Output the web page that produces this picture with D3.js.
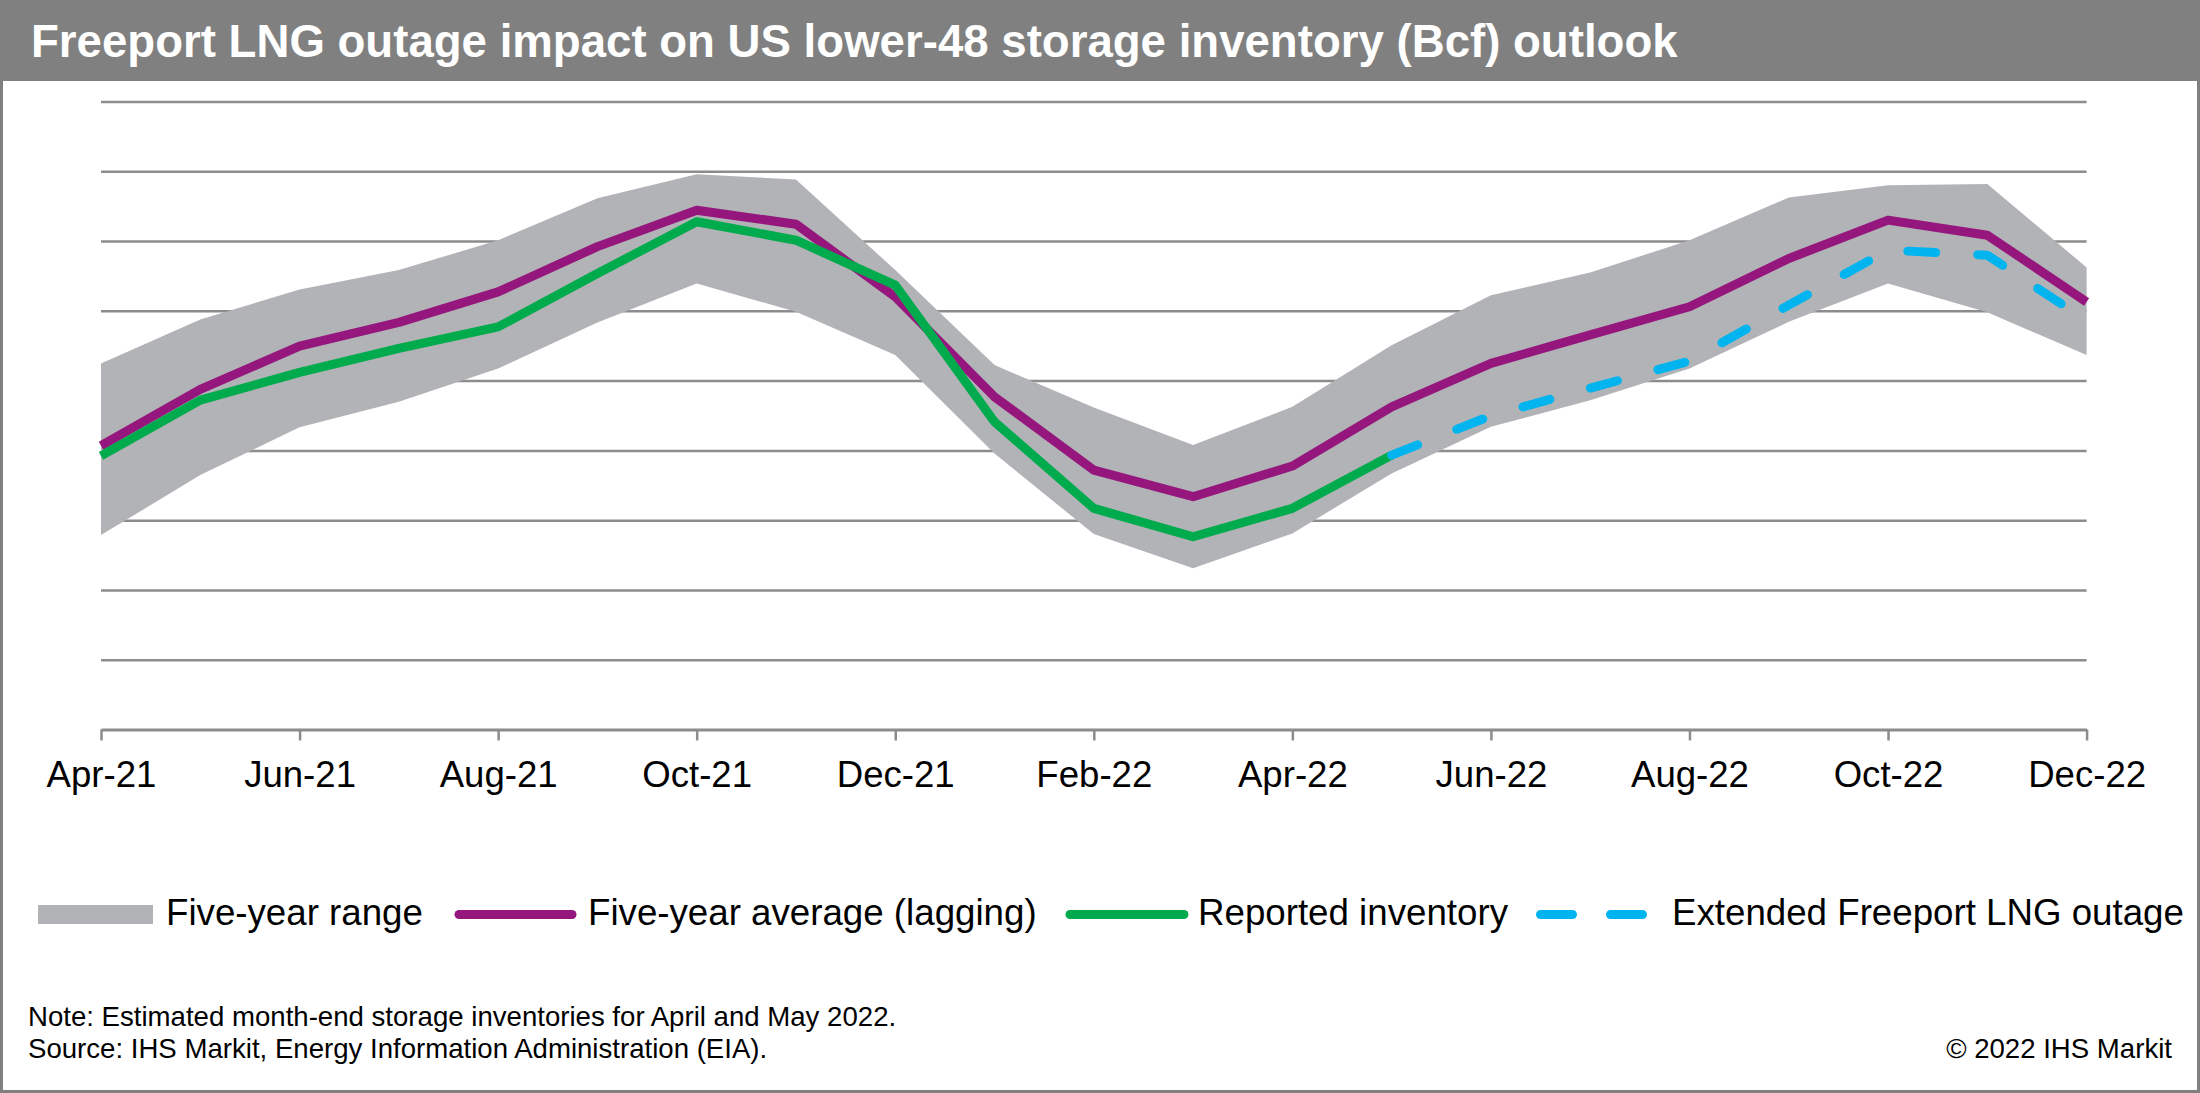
<!DOCTYPE html>
<html>
<head>
<meta charset="utf-8">
<script src="https://cdn.jsdelivr.net/npm/d3@7"></script>
<style>
  body { margin: 0; background: #fff; }
  svg { display: block; font-family: "Liberation Sans", Arial, sans-serif; }
</style>
</head>
<body>
<div id="chart"></div>
<script>
// month-end storage, Bcf
const months = ["Apr-21", "May-21", "Jun-21", "Jul-21", "Aug-21", "Sep-21", "Oct-21", "Nov-21", "Dec-21",
  "Jan-22", "Feb-22", "Mar-22", "Apr-22", "May-22", "Jun-22", "Jul-22", "Aug-22", "Sep-22", "Oct-22", "Nov-22", "Dec-22"];
const tickLabels = ["Apr-21", "Jun-21", "Aug-21", "Oct-21", "Dec-21", "Feb-22", "Apr-22", "Jun-22", "Aug-22", "Oct-22", "Dec-22"];
const gridValues = [0, 500, 1000, 1500, 2000, 2500, 3000, 3500, 4000, 4500];

const rangeHigh = [2623, 2938, 3153, 3292, 3506, 3807, 3979, 3941, 3292, 2611, 2307, 2038, 2312, 2754, 3112, 3274, 3506, 3812, 3900, 3908, 3311];
const rangeLow = [1393, 1823, 2165, 2348, 2587, 2917, 3196, 2993, 2683, 1978, 1400, 1155, 1405, 1835, 2169, 2360, 2587, 2921, 3196, 2989, 2683];
const fiveYearAvg = [2033, 2437, 2747, 2917, 3136, 3460, 3721, 3621, 3100, 2384, 1859, 1668, 1888, 2312, 2623, 2828, 3029, 3375, 3650, 3542, 3064];

const reportedMonths = months.slice(0, 14);
const reported = [1961, 2360, 2559, 2731, 2885, 3268, 3638, 3506, 3184, 2205, 1585, 1381, 1585, 1966];

const outageMonths = months.slice(13);
const outage = [1966, 2248, 2446, 2640, 3041, 3435, 3399, 2930];

const W = 2200, H = 1093;
const margin = { top: 101.5, right: 113.4, bottom: 363.5, left: 101 };
const width = W - margin.left - margin.right;
const height = H - margin.top - margin.bottom;

const colors = { range: "#b2b3b6", avg: "#95177e", reported: "#00ab4e", outage: "#00b5ef", grid: "#8c8c8c" };

const svg = d3.select("#chart")
  .append("svg")
  .attr("width", W)
  .attr("height", H);

// title bar
svg.append("rect").attr("x", 0).attr("y", 0).attr("width", W).attr("height", 81).attr("fill", "#808080");
svg.append("text")
  .attr("x", 31).attr("y", 57)
  .attr("fill", "#fff")
  .attr("font-size", 45.6).attr("font-weight", "bold")
  .text("Freeport LNG outage impact on US lower-48 storage inventory (Bcf) outlook");

// outer frame
svg.append("rect")
  .attr("x", 1.5).attr("y", 1.5).attr("width", W - 3).attr("height", H - 3)
  .attr("fill", "none").attr("stroke", "#808080").attr("stroke-width", 3);

const g = svg.append("g").attr("transform", `translate(${margin.left},${margin.top})`);

const x = d3.scalePoint().domain(months).range([0, width]);
const y = d3.scaleLinear().domain([0, 4500]).range([height, 0]);

// gridlines
g.append("g")
  .call(d3.axisLeft(y).tickValues(gridValues.slice(1)).tickSize(-width).tickFormat(""))
  .call(a => a.select(".domain").remove())
  .call(a => a.selectAll("line").attr("stroke", colors.grid).attr("stroke-width", 2.5));

// five-year range band
const band = months.map((m, i) => ({ m, lo: rangeLow[i], hi: rangeHigh[i] }));
g.append("path")
  .datum(band)
  .attr("fill", colors.range)
  .attr("d", d3.area().x(d => x(d.m)).y0(d => y(d.lo)).y1(d => y(d.hi)));

const line = d3.line().x(d => x(d[0])).y(d => y(d[1]));

g.append("path")
  .datum(d3.zip(months, fiveYearAvg))
  .attr("fill", "none").attr("stroke", colors.avg).attr("stroke-width", 9)
  .attr("stroke-linejoin", "round")
  .attr("d", line);

g.append("path")
  .datum(d3.zip(reportedMonths, reported))
  .attr("fill", "none").attr("stroke", colors.reported).attr("stroke-width", 9)
  .attr("stroke-linejoin", "round")
  .attr("d", line);

g.append("path")
  .datum(d3.zip(outageMonths, outage))
  .attr("fill", "none").attr("stroke", colors.outage).attr("stroke-width", 9)
  .attr("stroke-linecap", "round").attr("stroke-linejoin", "round")
  .attr("stroke-dasharray", "28,42")
  .attr("d", line);

// x axis
const xAxis = g.append("g")
  .attr("transform", `translate(0,${height})`)
  .call(d3.axisBottom(x).tickValues(tickLabels).tickSize(11).tickSizeOuter(0).tickPadding(21));
xAxis.select(".domain").attr("stroke", colors.grid).attr("stroke-width", 3);
xAxis.selectAll(".tick line").attr("stroke", colors.grid).attr("stroke-width", 2.5);
xAxis.selectAll(".tick text")
  .attr("font-size", 36.6).attr("fill", "#000")
  .attr("font-family", "Liberation Sans, Arial, sans-serif");

// legend
const legend = svg.append("g").attr("font-size", 36.7).attr("fill", "#000");
legend.append("rect").attr("x", 38).attr("y", 905).attr("width", 115).attr("height", 19).attr("fill", colors.range);
legend.append("text").attr("x", 166).attr("y", 925).text("Five-year range");

legend.append("line").attr("x1", 459).attr("x2", 572).attr("y1", 914.5).attr("y2", 914.5)
  .attr("stroke", colors.avg).attr("stroke-width", 9).attr("stroke-linecap", "round");
legend.append("text").attr("x", 588).attr("y", 925).text("Five-year average (lagging)");

legend.append("line").attr("x1", 1070).attr("x2", 1184).attr("y1", 914.5).attr("y2", 914.5)
  .attr("stroke", colors.reported).attr("stroke-width", 9).attr("stroke-linecap", "round");
legend.append("text").attr("x", 1198).attr("y", 925).text("Reported inventory");

legend.append("line").attr("x1", 1540.5).attr("x2", 1642.5).attr("y1", 914.5).attr("y2", 914.5)
  .attr("stroke", colors.outage).attr("stroke-width", 9).attr("stroke-linecap", "round")
  .attr("stroke-dasharray", "32,38");
legend.append("text").attr("x", 1672).attr("y", 925).text("Extended Freeport LNG outage");

// footer
const foot = svg.append("g").attr("font-size", 27.6).attr("fill", "#000");
foot.append("text").attr("x", 28).attr("y", 1026).text("Note: Estimated month-end storage inventories for April and May 2022.");
foot.append("text").attr("x", 28).attr("y", 1058).text("Source: IHS Markit, Energy Information Administration (EIA).");
foot.append("text").attr("x", 2172).attr("y", 1058).attr("text-anchor", "end").text("© 2022 IHS Markit");
</script>
</body>
</html>
